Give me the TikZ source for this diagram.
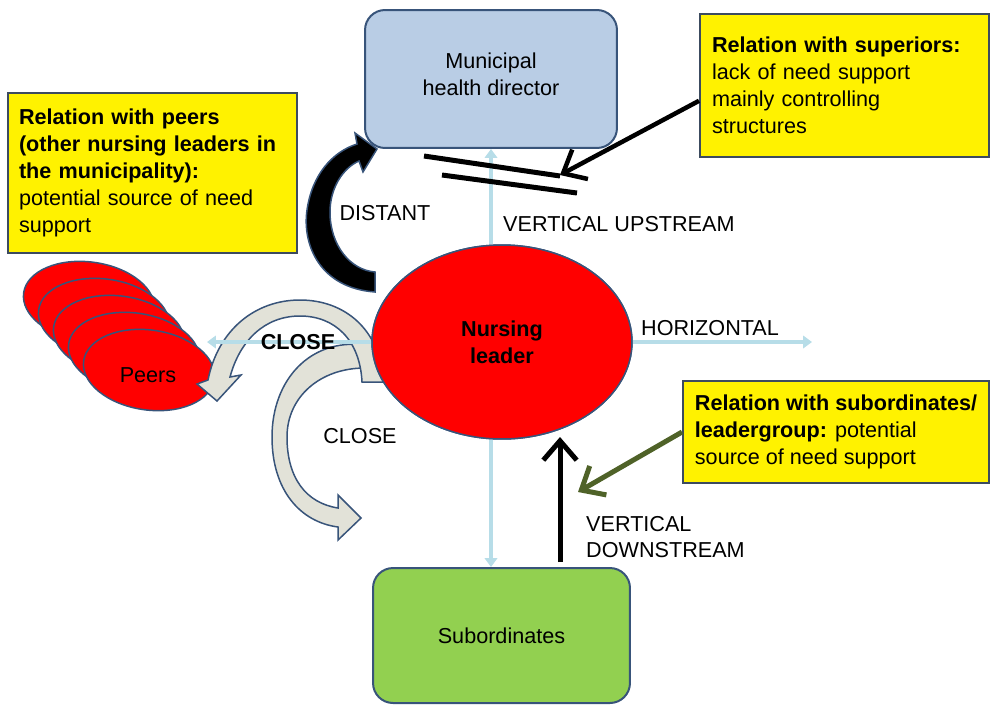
\documentclass[tikz,border=0pt]{standalone}
\usepackage{fontspec}
\setmainfont{Liberation Sans}
\usepackage{tikz}
\usetikzlibrary{arrows.meta,shapes.geometric}

\definecolor{dirblue}{RGB}{185,205,229}
\definecolor{edgeblue}{RGB}{56,84,122}
\definecolor{subgreen}{RGB}{146,208,80}
\definecolor{noteedge}{RGB}{60,75,95}
\definecolor{linkblue}{RGB}{183,221,232}
\definecolor{arrowgray}{RGB}{226,226,216}
\definecolor{leafgreen}{RGB}{79,98,40}

\tikzset{
	unitbox/.style={draw=edgeblue,line width=0.04cm,rounded corners=0.4cm,align=center},
	notebox/.style={draw=noteedge,fill=yellow,line width=0.04cm,align=left,inner ysep=0pt},
	peer/.style={ellipse,draw=edgeblue,fill=red,line width=0.03cm,minimum width=2.64cm,minimum height=1.6cm,inner sep=0pt,rotate=-8},
	link/.style={linkblue,line width=0.08cm,-{Triangle[length=5pt,width=7pt]}},
	bent/.style={draw=edgeblue,line width=0.03cm},
	hint/.style={line width=0.1cm,-{Straight Barb[length=11pt,width=19pt]}}
}

\begin{document}
\begin{tikzpicture}[x=0.02cm,y=-0.02cm,font=\fontsize{12.3}{15.3}\selectfont]
		\useasboundingbox (0,0) rectangle (990,704);
		
		\node[notebox,minimum width=5.78cm,minimum height=3.2cm,text width=5.34cm,inner xsep=0.22cm] (relpeers) at (152.5,173) {\textbf{Relation with peers}\\\textbf{(other nursing leaders in}\\\textbf{the municipality):}\\potential source of need\\support};
		\node[notebox,minimum width=5.78cm,minimum height=2.86cm,text width=5.3cm,inner xsep=0.24cm] (relsup) at (844.5,85.5) {\textbf{Relation with superiors:}\\lack of need support\\mainly controlling\\structures};
		\node[notebox,minimum width=6.12cm,minimum height=2.04cm,inner xsep=0.16cm] (relsub) at (836,432) {\textbf{Relation with subordinates/}\\\textbf{leadergroup:} potential\\source of need support};
		
		\node[unitbox,fill=dirblue,minimum width=5.04cm,minimum height=2.76cm] (director) at (491,79) {Municipal\\health director\\[-10pt]};
		\node[unitbox,fill=subgreen,minimum width=5.14cm,minimum height=2.7cm] (subord) at (501.5,635.5) {Subordinates};
		
		\foreach \k in {4,3,2,1}
			\node[peer] (peer\k) at ({149-15*\k},{370-17*\k}) {};
		\node[peer] (peers) at (149,370) {};
		
		\path[bent,fill=arrowgray] (365,345) .. controls (310,338) and (272,380) .. (272,437) .. controls (272,490) and (300,522) .. (338,527) -- (338,540) -- (361,518) -- (338,495) -- (338,508) .. controls (306,503) and (287,478) .. (287,437) .. controls (287,397) and (320,368) .. (365,368) -- cycle;
		\path[bent,fill=arrowgray] (383,382) .. controls (381,330) and (345,300) .. (300,300) .. controls (255,300) and (218,330) .. (208,380) -- (197,384) -- (217,401) -- (241,375) -- (230,377) .. controls (240,340) and (265,316) .. (300,316) .. controls (335,316) and (360,340) .. (362,382) -- cycle;
		\path[bent,fill=black] (375,292) .. controls (320,288) and (302,245) .. (307,210) .. controls (312,175) and (332,152) .. (357,144) -- (355,133) -- (377,149) -- (363,172) -- (359,161) .. controls (343,168) and (330,188) .. (330,212) .. controls (330,245) and (350,270) .. (375,272) -- cycle;
		
		\node[ellipse,draw=edgeblue,fill=red,line width=0.03cm,minimum width=5.2cm,minimum height=3.88cm,inner sep=0pt,align=center] (leader) at (502,342) {\textbf{Nursing}\\\textbf{leader}};
		
		\coordinate (peertip) at (207,342);
		\coordinate (horiztip) at (812,342);
		\draw[link] (leader.west) -- (peertip);
		\draw[link] (leader.east) -- (horiztip);
		\draw[link] (director.south |- leader.north) -- (director.south);
		\draw[link] (director.south |- leader.south) -- (director.south |- subord.north);
		\node[ellipse,draw=edgeblue,fill=red,line width=0.03cm,minimum width=5.2cm,minimum height=3.88cm,inner sep=0pt,align=center] at (leader) {\textbf{Nursing}\\\textbf{leader}};
		
		\draw[line width=0.1cm] (424,156) -- (560,176);
		\draw[line width=0.1cm] (442,175) -- (577,193);
		
		\coordinate (cut) at (560,175);
		\coordinate (subhint) at (578,492);
		\coordinate (dsfoot) at (560,562);
		\coordinate (dstip) at (560,437);
		\draw[hint,line width=0.09cm] (relsup.186) -- (cut);
		\draw[hint,leafgreen] (relsub.west) -- (subhint);
		\draw[hint] (dsfoot) -- (dstip);
		
		\node (peerslabel) at (148,375) {Peers};
		\node (distant) at (385,213) {DISTANT};
		\node[anchor=west] (upstream) at (497,224) {VERTICAL UPSTREAM};
		\node[anchor=west] (horizontal) at (635,328) {HORIZONTAL};
		\node (closepeers) at (298,342) {\textbf{CLOSE}};
		\node (closesub) at (360,436) {CLOSE};
		\node[anchor=west,align=left] (downstream) at (580,537) {VERTICAL\\DOWNSTREAM};
	\end{tikzpicture}
\end{document}
